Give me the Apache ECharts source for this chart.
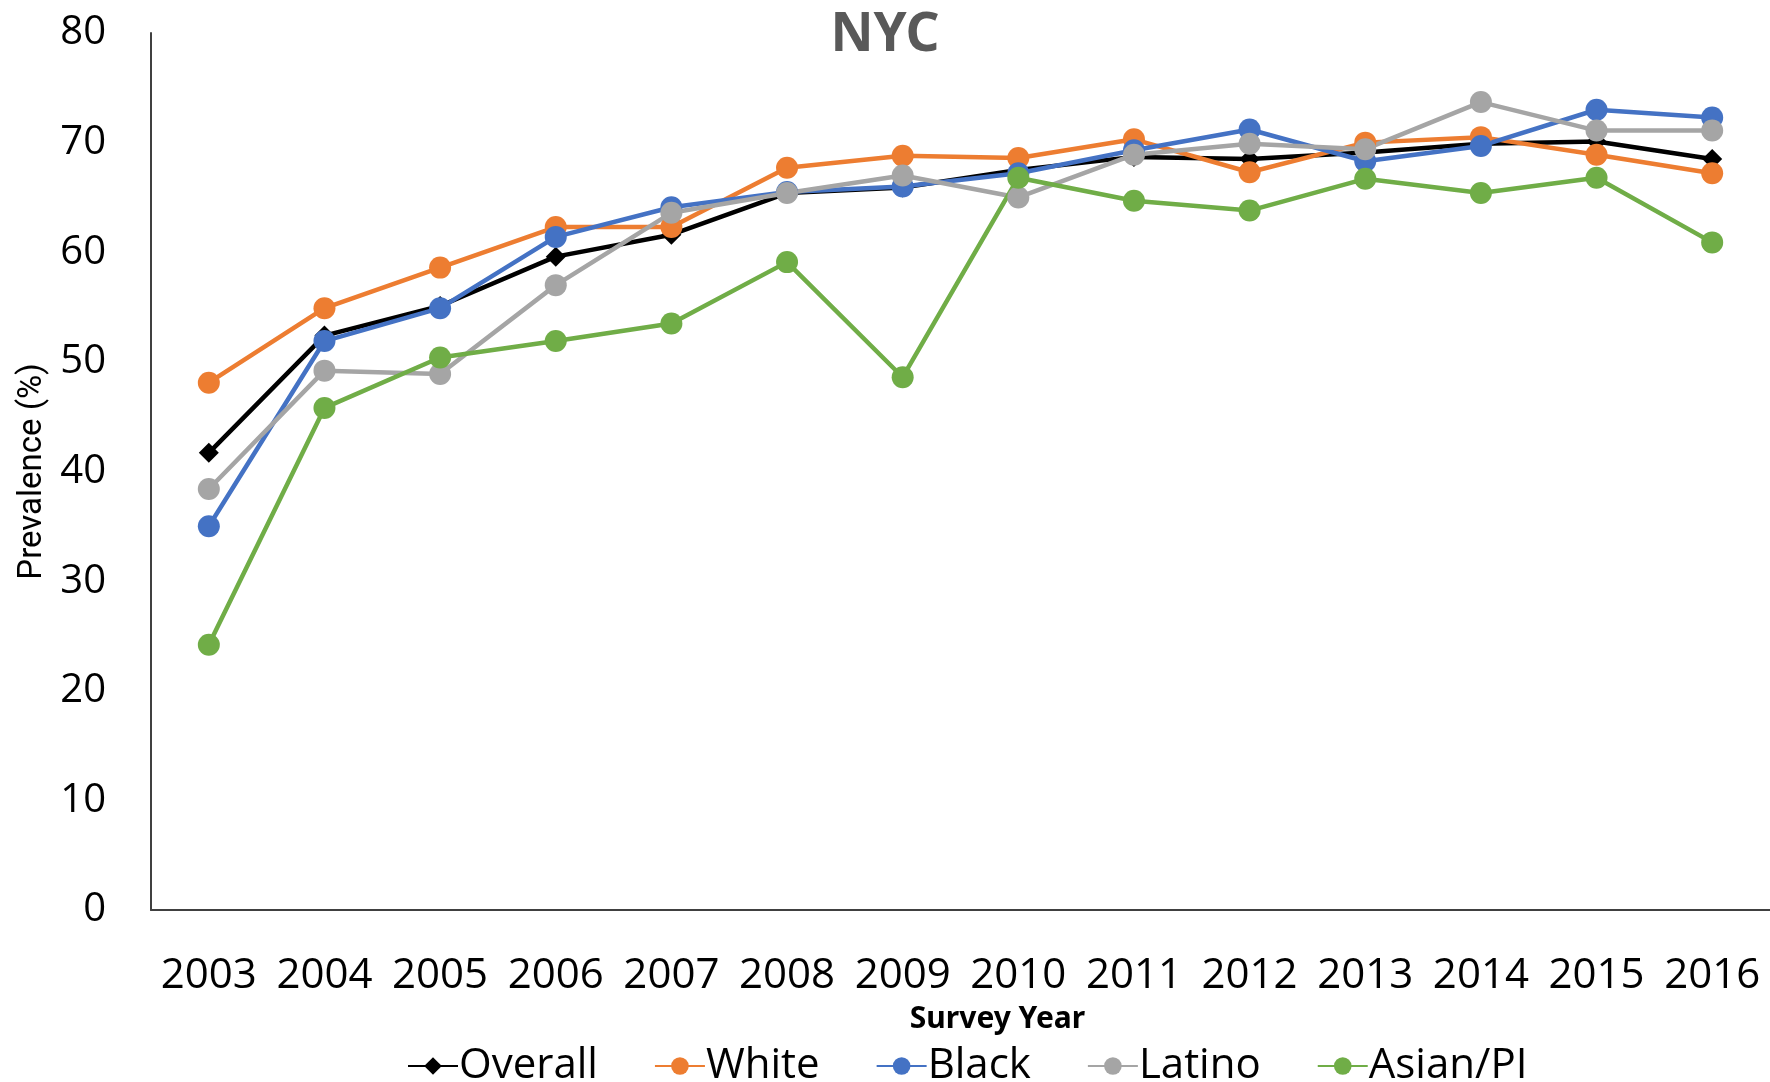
<!DOCTYPE html>
<html>
<head>
<meta charset="utf-8">
<script src="https://cdn.jsdelivr.net/npm/echarts@6/dist/echarts.min.js"></script>
<style>
  html, body { margin: 0; padding: 0; background: #fff; }
  #chart { width: 1770px; height: 1082px; }
</style>
</head>
<body>
<div id="chart"></div>
<script>
var years = ["2003", "2004", "2005", "2006", "2007", "2008", "2009", "2010", "2011", "2012", "2013", "2014", "2015", "2016"];
var yTicks = [0, 10, 20, 30, 40, 50, 60, 70, 80];

var overall = [41.7, 52.4, 55.1, 59.6, 61.6, 65.4, 65.9, 67.5, 68.7, 68.5, 69.1, 69.9, 70.1, 68.5];
var white = [48.1, 54.9, 58.6, 62.3, 62.3, 67.7, 68.8, 68.6, 70.3, 67.3, 70.0, 70.5, 68.9, 67.2];
var black = [35.0, 51.9, 54.9, 61.4, 64.1, 65.5, 66.0, 67.2, 69.3, 71.2, 68.3, 69.7, 73.0, 72.3];
var latino = [38.4, 49.2, 48.9, 57.0, 63.6, 65.4, 67.0, 65.0, 68.9, 69.9, 69.4, 73.7, 71.1, 71.1];
var asianPI = [24.2, 45.8, 50.4, 51.9, 53.5, 59.1, 48.6, 66.8, 64.7, 63.8, 66.7, 65.4, 66.8, 60.9];

var seriesNames = ["Overall", "White", "Black", "Latino", "Asian/PI"];
var seriesColors = ["#000000", "#ED7D31", "#4472C4", "#A5A5A5", "#70AD47"];
var seriesData = [overall, white, black, latino, asianPI];

(function () {
  var myChart = echarts.init(document.getElementById("chart"));

  var series = seriesData.map(function (d, i) {
    var isOverall = i === 0;
    return {
      name: seriesNames[i],
      type: "line",
      data: d,
      symbol: isOverall ? "diamond" : "circle",
      symbolSize: isOverall ? 20 : 22,
      showSymbol: true,
      lineStyle: { color: seriesColors[i], width: 4.5 },
      itemStyle: { color: seriesColors[i] },
      animation: false,
    };
  });

  var option = {
    backgroundColor: "#fff",
    title: {
      text: "NYC",
      left: 880,
      textAlign: "center",
      top: 4,
      textStyle: {
        fontFamily: "Noto Sans",
        fontWeight: "bold",
        fontSize: 53,
        color: "#595959",
      },
    },
    legend: {
      data: seriesNames,
      left: 402,
      top: 1040,
      itemWidth: 50,
      itemHeight: 22,
      itemGap: 56,
      textStyle: {
        fontFamily: "Open Sans",
        fontSize: 42,
        color: "#000",
        padding: [0, 0, 0, -4],
      },
    },
    grid: {
      left: 151,
      right: 0,
      top: 33,
      bottom: 172,
      containLabel: false,
    },
    xAxis: {
      type: "category",
      data: years,
      boundaryGap: true,
      name: "Survey Year",
      nameLocation: "middle",
      nameGap: 94,
      nameTextStyle: {
        fontFamily: "Noto Sans",
        fontWeight: "bold",
        fontSize: 30,
        color: "#000",
        padding: [0, 0, 0, 74],
      },
      axisLine: { show: true, lineStyle: { color: "#404040", width: 2 } },
      axisTick: { show: false },
      axisLabel: {
        interval: 0,
        margin: 45,
        fontFamily: "Open Sans",
        fontSize: 42,
        color: "#000",
      },
      splitLine: { show: false },
    },
    yAxis: {
      type: "value",
      min: yTicks[0],
      max: yTicks[yTicks.length - 1],
      interval: 10,
      name: "Prevalence (%)",
      nameLocation: "middle",
      nameGap: 100,
      nameTextStyle: {
        fontFamily: "Roboto",
        fontSize: 33,
        color: "#000",
      },
      axisLine: { show: true, lineStyle: { color: "#404040", width: 2 } },
      axisTick: { show: false },
      axisLabel: {
        margin: 45,
        fontFamily: "Open Sans",
        fontSize: 40,
        color: "#000",
      },
      splitLine: { show: false },
    },
    series: series,
  };
  myChart.setOption(option);
  window.addEventListener("resize", function () {
    myChart.resize();
  });
})();
</script>
</body>
</html>
